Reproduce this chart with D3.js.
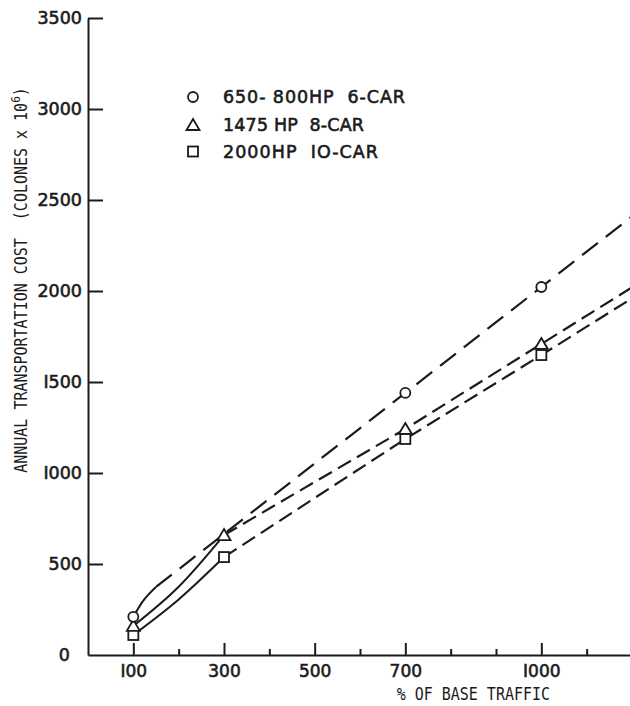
<!DOCTYPE html>
<html>
<head>
<meta charset="utf-8">
<script src="https://cdn.jsdelivr.net/npm/d3@7"></script>
<style>
  html, body { margin: 0; padding: 0; background: #fff; }
  svg { display: block; }
</style>
</head>
<body>
<svg id="chart" width="630" height="706"></svg>
<script>
// Annual transportation cost against traffic level, three locomotive / train options.
const traffic = [100, 300, 700, 1000];            // % of base traffic
const cost6Car = [210, null, 1440, 2022];         // 650-800 HP, 6-car (300 point hidden under the triangle)
const cost8Car = [160, 659, 1242, 1709];          // 1475 HP, 8-car
const cost10Car = [110, 538, 1187, 1648];         // 2000 HP, 10-car

// Extra points traced along the hand-fitted curves, and where each line meets the frame edge
const bend6Car = [[120, 292], [150, 374]];
const bend8Car = [[200, 375]];
const bend10Car = [[200, 305]];
const edge6Car = [1200, 2410];
const edge8Car = [1200, 2020];
const edge10Car = [1200, 1960];
// Traffic level where each curve turns from solid to dashed
const knees = [150, 300, 300];

const seriesNames = ["650- 800HP  6-CAR", "1475 HP  8-CAR", "2000HP  IO-CAR"];
const yTicks = [0, 500, 1000, 1500, 2000, 2500, 3000, 3500];
const yTickLabels = ["0", "500", "I000", "I500", "2000", "2500", "3000", "3500"];
const xTicks = [100, 200, 300, 400, 500, 600, 700, 800, 900, 1000, 1100];
const xTickLabels = { 100: "I00", 300: "300", 500: "500", 700: "700", 1000: "I000" };
const xTitle = "% OF BASE TRAFFIC";
const yTitle = "ANNUAL TRANSPORTATION COST  (COLONES x 10";

const ink = "#1b1b1b";
const svg = d3.select("#chart");

const x = d3.scaleLinear().domain([0, 1200]).range([88, 632]);
const y = d3.scaleLinear().domain([0, 3500]).range([655, 18]);

// lettering-style labels: regular face with a thin outline for a heavier pen stroke
const letter = (sel, size) => sel
  .attr("fill", ink)
  .attr("stroke", ink)
  .attr("stroke-width", 0.6)
  .style("font-family", "'DejaVu Sans', sans-serif")
  .style("font-size", size);

// ---- axes ----
const yAxis = d3.axisLeft(y)
  .tickValues(yTicks)
  .tickSizeInner(-15)
  .tickSizeOuter(0)
  .tickPadding(6)
  .tickFormat((d, i) => yTickLabels[i]);

const gy = svg.append("g").attr("transform", `translate(${x(0)},0)`).call(yAxis);
gy.select(".domain").attr("stroke", ink).attr("stroke-width", 2);
gy.selectAll(".tick line").attr("stroke", ink).attr("stroke-width", 2);
letter(gy.selectAll(".tick text"), "17.5px");
gy.selectAll(".tick").filter(d => d === 0).select("line").remove();
gy.selectAll(".tick").filter(d => d === 0).select("text").attr("x", -18);

const xAxis = d3.axisBottom(x)
  .tickValues(xTicks)
  .tickSizeInner(-6)
  .tickSizeOuter(0)
  .tickPadding(10)
  .tickFormat(d => xTickLabels[d] || "");

const gx = svg.append("g").attr("transform", `translate(0,${y(0)})`).call(xAxis);
gx.select(".domain").attr("stroke", ink).attr("stroke-width", 2);
gx.selectAll(".tick line").attr("stroke", ink).attr("stroke-width", 2)
  .attr("y2", d => xTickLabels[d] ? -12 : -6);
letter(gx.selectAll(".tick text"), "17px");

// axis titles
svg.append("text")
  .attr("transform", `translate(${x(850)},700) scale(1,1.2)`)
  .attr("text-anchor", "middle")
  .attr("fill", ink)
  .style("font-family", "'DejaVu Sans Mono', monospace")
  .style("font-size", "15px")
  .text(xTitle);

const yt = svg.append("text")
  .attr("transform", "translate(27,280) rotate(-90) scale(1,1.18)")
  .attr("text-anchor", "middle")
  .attr("fill", ink)
  .style("font-family", "'DejaVu Sans Mono', monospace")
  .style("font-size", "15px")
  .attr("xml:space", "preserve");
yt.append("tspan").text(yTitle);
yt.append("tspan").attr("dy", -6).style("font-size", "11px").text("6");
yt.append("tspan").attr("dy", 6).text(")");

// ---- curves ----
const series = [
  { key: "c6", vals: cost6Car, bend: bend6Car, edge: edge6Car, knee: knees[0], dash: "20,10", marker: "circle" },
  { key: "c8", vals: cost8Car, bend: bend8Car, edge: edge8Car, knee: knees[1], dash: "15,7", marker: "triangle" },
  { key: "c10", vals: cost10Car, bend: bend10Car, edge: edge10Car, knee: knees[2], dash: "15,7", marker: "square" }
];

const solidLine = d3.line().x(d => x(d[0])).y(d => y(d[1])).curve(d3.curveMonotoneX);
const dashLine = d3.line().x(d => x(d[0])).y(d => y(d[1]));

series.forEach(s => {
  const pts = traffic.map((t, i) => [t, s.vals[i]]).filter(p => p[1] !== null)
    .concat(s.bend, [s.edge])
    .sort((a, b) => a[0] - b[0]);
  const solid = pts.filter(p => p[0] <= s.knee);
  const dashed = pts.filter(p => p[0] >= s.knee);
  svg.append("path").attr("d", solidLine(solid))
    .attr("fill", "none").attr("stroke", ink).attr("stroke-width", 2);
  svg.append("path").attr("d", dashLine(dashed))
    .attr("fill", "none").attr("stroke", ink).attr("stroke-width", 2.2)
    .attr("stroke-dasharray", s.dash);
});

// ---- markers ----
function drawMarker(g, type, cx, cy) {
  const common = sel => sel.attr("fill", "#fff").attr("stroke", ink).attr("stroke-width", 1.8);
  if (type === "circle") {
    common(g.append("circle").attr("cx", cx).attr("cy", cy).attr("r", 5));
  } else if (type === "triangle") {
    common(g.append("path").attr("d", `M${cx},${cy - 6}L${cx + 6.5},${cy + 5}L${cx - 6.5},${cy + 5}Z`));
  } else {
    common(g.append("rect").attr("x", cx - 5).attr("y", cy - 5).attr("width", 10).attr("height", 10));
  }
}

const gm = svg.append("g");
[series[2], series[1], series[0]].forEach(s => {
  traffic.forEach((t, i) => {
    if (s.vals[i] !== null) drawMarker(gm, s.marker, x(t), y(s.vals[i]));
  });
});

// ---- legend ----
const legendRows = [97, 125, 151.5];
const legendWidths = [182, 141, 155];
series.forEach((s, i) => {
  drawMarker(svg, s.marker, 193, legendRows[i]);
  letter(svg.append("text"), "17.5px")
    .attr("x", 223).attr("y", legendRows[i]).attr("dy", "0.36em")
    .attr("xml:space", "preserve")
    .attr("textLength", legendWidths[i])
    .attr("lengthAdjust", "spacing")
    .text(seriesNames[i]);
});
</script>
</body>
</html>
